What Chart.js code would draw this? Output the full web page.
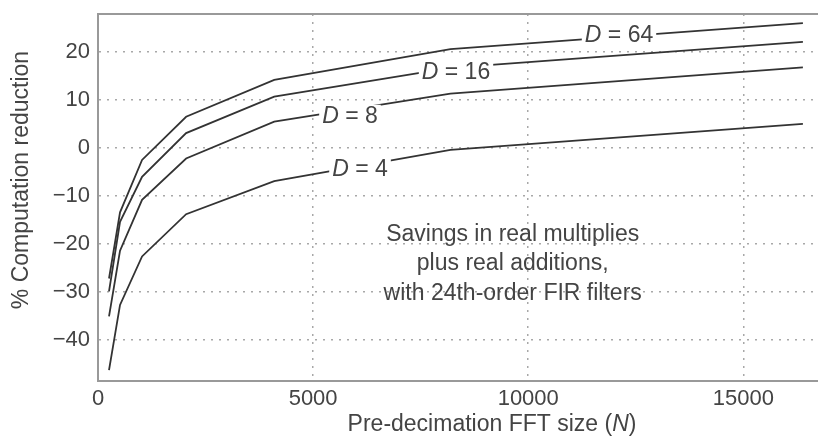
<!DOCTYPE html>
<html>
<head>
<meta charset="utf-8">
<script src="https://cdn.jsdelivr.net/npm/chart.js@4.4.1/dist/chart.umd.min.js"></script>
<style>
  html, body { margin: 0; background: #fff; }
  #wrap { width: 818px; height: 437px; position: relative; }
</style>
</head>
<body>
<div id="wrap"><canvas id="chart"></canvas></div>
<script>
// Pre-decimation FFT size N and % computation reduction for each decimation factor D
const fftSizes = [256, 512, 1024, 2048, 4096, 8192, 16384];
const reductionD4 = [-46.4, -32.8, -22.7, -13.9, -7.0, -0.5, 4.9];
const reductionD8 = [-35.2, -21.5, -10.9, -2.3, 5.4, 11.2, 16.7];
const reductionD16 = [-30.0, -15.5, -6.1, 3.0, 10.6, 16.6, 22.0];
const reductionD64 = [-27.3, -13.5, -2.6, 6.4, 14.1, 20.5, 25.9];
const decimations = ['4', '8', '16', '64'];
const xTickValues = [0, 5000, 10000, 15000];
const yTickValues = [-40, -30, -20, -10, 0, 10, 20];
const noteLines = ['Savings in real multiplies', 'plus real additions,', 'with 24th-order FIR filters'];
const xTitle = 'Pre-decimation FFT size (';
const yTitle = '% Computation reduction';

// where the in-plot labels sit (data units)
const curveLabelAt = {
  '4': { x: 6090, y: -4.7 },
  '8': { x: 5857, y: 6.4 },
  '16': { x: 8321, y: 15.6 },
  '64': { x: 12110, y: 23.3 }
};
const noteAt = { x: 9639, y: -24.3 };

const FONT = "'Liberation Sans', Arial, sans-serif";
const TEXT = '#444';
const series = [reductionD4, reductionD8, reductionD16, reductionD64];

const datasets = series.map((vals, i) => ({
  label: 'D = ' + decimations[i],
  data: fftSizes.map((n, j) => ({ x: n, y: vals[j] })),
  borderColor: '#333',
  borderWidth: 1.8,
  pointRadius: 0,
  tension: 0,
  fill: false
}));

const decorations = {
  id: 'decorations',
  afterDatasetsDraw(chart) {
    const { ctx, chartArea: a, scales: { x, y } } = chart;
    ctx.save();
    // top frame line
    ctx.strokeStyle = '#999';
    ctx.lineWidth = 2;
    ctx.beginPath();
    ctx.moveTo(a.left, a.top);
    ctx.lineTo(a.right, a.top);
    ctx.stroke();

    // D = n labels breaking the curves
    ctx.textBaseline = 'middle';
    decimations.forEach(d => {
      const p = curveLabelAt[d];
      const cx = x.getPixelForValue(p.x);
      const cy = y.getPixelForValue(p.y);
      ctx.font = 'italic 23px ' + FONT;
      const wD = ctx.measureText('D').width;
      ctx.font = '23px ' + FONT;
      const rest = ' = ' + d;
      const wR = ctx.measureText(rest).width;
      const w = wD + wR;
      ctx.fillStyle = '#fff';
      ctx.fillRect(cx - w / 2 - 3, cy - 12, w + 6, 24);
      ctx.fillStyle = TEXT;
      ctx.textAlign = 'left';
      ctx.font = 'italic 23px ' + FONT;
      ctx.fillText('D', cx - w / 2, cy);
      ctx.font = '23px ' + FONT;
      ctx.fillText(rest, cx - w / 2 + wD, cy);
    });

    // note text
    ctx.font = '23px ' + FONT;
    ctx.textAlign = 'center';
    ctx.fillStyle = TEXT;
    const nx = x.getPixelForValue(noteAt.x);
    const ny = y.getPixelForValue(noteAt.y);
    noteLines.forEach((line, i) => ctx.fillText(line, nx, ny + (i - 1) * 29.5));

    // x title with italic N
    ctx.font = '23px ' + FONT;
    const w1 = ctx.measureText(xTitle).width;
    ctx.font = 'italic 23px ' + FONT;
    const wN = ctx.measureText('N').width;
    ctx.font = '23px ' + FONT;
    const w3 = ctx.measureText(')').width;
    const tx = 492 - (w1 + wN + w3) / 2;
    const ty = 425;
    ctx.textAlign = 'left';
    ctx.fillText(xTitle, tx, ty);
    ctx.font = 'italic 23px ' + FONT;
    ctx.fillText('N', tx + w1, ty);
    ctx.font = '23px ' + FONT;
    ctx.fillText(')', tx + w1 + wN, ty);

    // y title
    ctx.translate(22, 180);
    ctx.rotate(-Math.PI / 2);
    ctx.textAlign = 'center';
    ctx.fillText(yTitle, 0, 0);
    ctx.restore();
  }
};

const gridStyle = { color: '#a8a8a8', lineWidth: 1.5, drawTicks: false };
const borderStyle = { color: '#999', width: 2, dash: [2, 6] };

new Chart(document.getElementById('chart'), {
  type: 'line',
  data: { datasets },
  options: {
    responsive: true,
    maintainAspectRatio: false,
    animation: false,
    layout: { padding: { top: 14, right: 0, left: 0, bottom: 0 } },
    plugins: { legend: { display: false }, tooltip: { enabled: false } },
    scales: {
      x: {
        type: 'linear',
        min: 0,
        max: 16735,
        afterBuildTicks: s => { s.ticks = xTickValues.map(v => ({ value: v })); },
        afterFit: s => { s.height = 56; s.paddingLeft = 0; s.paddingRight = 0; },
        grid: gridStyle,
        border: borderStyle,
        ticks: { color: TEXT, font: { family: FONT, size: 22 }, padding: 5, maxRotation: 0,
          callback: v => String(v) }
      },
      y: {
        type: 'linear',
        min: -48.65,
        max: 27.81,
        afterBuildTicks: s => { s.ticks = yTickValues.map(v => ({ value: v })); },
        afterFit: s => { s.width = 98; s.paddingTop = 0; s.paddingBottom = 0; },
        grid: gridStyle,
        border: borderStyle,
        ticks: { color: TEXT, font: { family: FONT, size: 22 }, padding: 8,
          callback: v => v < 0 ? '\u2212' + Math.abs(v) : String(v) }
      }
    }
  },
  plugins: [decorations]
});
</script>
</body>
</html>
